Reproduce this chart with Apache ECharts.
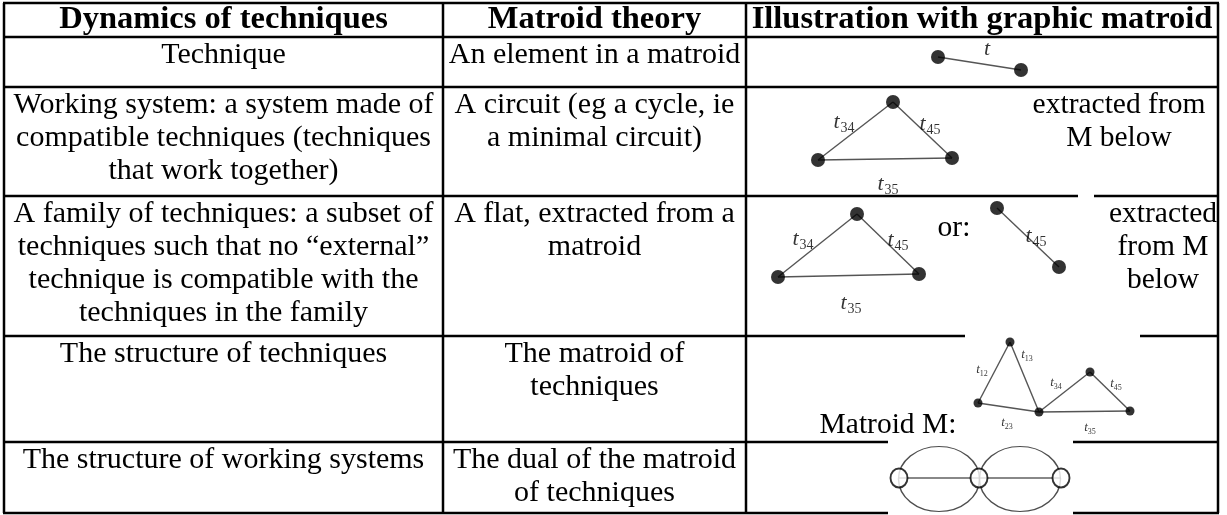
<!DOCTYPE html>
<html>
<head>
<meta charset="utf-8">
<script src="https://cdn.jsdelivr.net/npm/echarts@6/dist/echarts.min.js"></script>
<style>
  html, body { margin: 0; background: #fff; }
  #table-chart { width: 1227px; height: 515px; }
</style>
</head>
<body>
<div id="table-chart"></div>
<script>
// ---- table text ----
var headers = ['Dynamics of techniques', 'Matroid theory', 'Illustration with graphic matroid'];
var dynamics = [
  ['Technique'],
  ['Working system: a system made of', 'compatible techniques (techniques', 'that work together)'],
  ['A family of techniques: a subset of', 'techniques such that no \u201cexternal\u201d', 'technique is compatible with the', 'techniques in the family'],
  ['The structure of techniques'],
  ['The structure of working systems']
];
var theory = [
  ['An element in a matroid'],
  ['A circuit (eg a cycle, ie', 'a minimal circuit)'],
  ['A flat, extracted from a', 'matroid'],
  ['The matroid of', 'techniques'],
  ['The dual of the matroid', 'of techniques']
];
var notesCircuit = ['extracted from', 'M below'];
var notesFlat = ['extracted', 'from M', 'below'];

// ---- graph drawings (values on the hidden x / y axes) ----
var elementNodes = [[938, 57], [1021, 70]];
var circuitNodes = [[818, 160], [893, 102], [952, 158]];
var flatNodes = [[778, 277], [857, 214], [919, 274]];
var flatEdgeNodes = [[997, 208], [1059, 267]];
var matroidNodes = [[1010, 342], [978, 403], [1039, 412], [1090, 372], [1130, 411]];
var matroidEdges = [[0, 1], [0, 2], [1, 2], [2, 3], [3, 4], [2, 4]];
var triangleEdges = [[0, 1], [1, 2], [0, 2]];
var dualNodes = [[899, 478], [979, 478], [1061, 478]];
var dualLoops = [[939, 479], [1020, 479]];

// label: [name, subscript, x, y]
var bigLabels = [
  ['t', '', 987, 49],
  ['t', '34', 844, 122], ['t', '45', 930, 124], ['t', '35', 888, 184],
  ['t', '34', 803, 239], ['t', '45', 898, 240], ['t', '35', 851, 303],
  ['t', '45', 1036, 236]
];
var smallLabels = [
  ['t', '12', 982, 370], ['t', '13', 1027, 355], ['t', '23', 1007, 423],
  ['t', '34', 1056, 383], ['t', '45', 1116, 384], ['t', '35', 1090, 428]
];

// ---- layout ----
var colEdges = [4, 443, 746, 1218];
var rowEdges = [3, 37, 87, 196, 336, 442, 513];
var lineGap = 33;
var FONT = '"Liberation Serif", "Times New Roman", serif';

function text(str, x, y, size, bold, align) {
  return {
    type: 'text', x: x, y: y, z: 2, silent: true,
    style: {
      text: str, fill: '#000',
      font: (bold ? 'bold ' : '') + size + 'px ' + FONT,
      textAlign: align || 'center', textVerticalAlign: 'middle'
    }
  };
}
function hline(y, x1, x2) {
  return { type: 'line', z: 0, silent: true, shape: { x1: x1, y1: y, x2: x2, y2: y },
    style: { stroke: '#000', lineWidth: 2.5 } };
}
function vline(x, y1, y2) {
  return { type: 'line', z: 0, silent: true, shape: { x1: x, y1: y1, x2: x, y2: y2 },
    style: { stroke: '#000', lineWidth: 2.5 } };
}
function whiteout(x, y, w, h) {
  return { type: 'rect', z: 1, silent: true, shape: { x: x, y: y, width: w, height: h },
    style: { fill: '#fff' } };
}

var graphic = [];
rowEdges.forEach(function (y) { graphic.push(hline(y, colEdges[0] - 1, colEdges[3] + 1)); });
colEdges.forEach(function (x) { graphic.push(vline(x, rowEdges[0], rowEdges[6])); });
// the pasted pictures cover parts of the borders
graphic.push(whiteout(1078, 193, 16, 6));
graphic.push(whiteout(965, 333, 175, 6));
graphic.push(whiteout(888, 439, 185, 6));
graphic.push(whiteout(888, 510, 185, 6));

var colCenters = [0, 1, 2].map(function (i) { return (colEdges[i] + colEdges[i + 1]) / 2; });
headers.forEach(function (h, i) { graphic.push(text(h, colCenters[i], 20, 32.5, true)); });
function cellLines(lines, col, row) {
  lines.forEach(function (l, k) {
    graphic.push(text(l, colCenters[col], rowEdges[row + 1] + 18 + k * lineGap, 30));
  });
}
dynamics.forEach(function (lines, r) { cellLines(lines, 0, r); });
theory.forEach(function (lines, r) { cellLines(lines, 1, r); });
notesCircuit.forEach(function (l, k) { graphic.push(text(l, 1119, rowEdges[2] + 18 + k * lineGap, 29.5)); });
notesFlat.forEach(function (l, k) { graphic.push(text(l, 1163, rowEdges[3] + 18 + k * lineGap, 29.5)); });
graphic.push(text('or:', 954, 228, 29.5));
graphic.push(text('Matroid M:', 888, 425, 29.5));

function edgesOf(nodes, pairs) {
  return pairs.map(function (p) { return { coords: [nodes[p[0]], nodes[p[1]]] }; });
}
var grayEdges = []
  .concat(edgesOf(elementNodes, [[0, 1]]))
  .concat(edgesOf(circuitNodes, triangleEdges))
  .concat(edgesOf(flatNodes, triangleEdges))
  .concat(edgesOf(flatEdgeNodes, [[0, 1]]))
  .concat(edgesOf(matroidNodes, matroidEdges));
var dualEdges = edgesOf(dualNodes, [[0, 1], [1, 2]]);

var bigDots = [].concat(elementNodes, circuitNodes, flatNodes, flatEdgeNodes);

function labelData(list) {
  return list.map(function (l) {
    return { value: [l[2], l[3]], label: { formatter: '{t|' + l[0] + '}' + (l[1] ? '{s|' + l[1] + '}' : '') } };
  });
}

var option = {
  animation: false,
  grid: { left: 0, right: 0, top: 0, bottom: 0 },
  xAxis: { type: 'value', min: 0, max: 1227, show: false },
  yAxis: { type: 'value', min: 0, max: 515, inverse: true, show: false },
  graphic: graphic,
  series: [
    {
      type: 'lines', coordinateSystem: 'cartesian2d', z: 3, silent: true,
      data: grayEdges,
      lineStyle: { color: '#555', width: 1.4, opacity: 1 }
    },
    {
      type: 'lines', coordinateSystem: 'cartesian2d', z: 3, silent: true,
      data: dualEdges,
      lineStyle: { color: '#888', width: 2, opacity: 1 }
    },
    {
      type: 'scatter', z: 3, silent: true,
      data: dualLoops,
      symbol: 'circle', symbolSize: [81, 65],
      itemStyle: { color: 'rgba(0,0,0,0)', borderColor: '#222', borderWidth: 1.3 }
    },
    {
      type: 'scatter', z: 4, silent: true,
      data: dualNodes,
      symbol: 'circle', symbolSize: [17, 19],
      itemStyle: { color: '#fff', borderColor: '#000', borderWidth: 2 }
    },
    {
      type: 'scatter', z: 4, silent: true,
      data: bigDots, symbolSize: 14,
      itemStyle: { color: '#000' }
    },
    {
      type: 'scatter', z: 4, silent: true,
      data: matroidNodes, symbolSize: 9,
      itemStyle: { color: '#000' }
    },
    {
      type: 'scatter', z: 5, silent: true, symbolSize: 0,
      data: labelData(bigLabels),
      label: {
        show: true, position: 'inside', color: '#000',
        rich: {
          t: { fontFamily: FONT, fontStyle: 'italic', fontSize: 22, color: '#000' },
          s: { fontFamily: FONT, fontSize: 14, color: '#000', padding: [12, 0, 0, 1] }
        }
      }
    },
    {
      type: 'scatter', z: 5, silent: true, symbolSize: 0,
      data: labelData(smallLabels),
      label: {
        show: true, position: 'inside', color: '#000',
        rich: {
          t: { fontFamily: FONT, fontStyle: 'italic', fontSize: 13, color: '#000' },
          s: { fontFamily: FONT, fontSize: 8, color: '#000', padding: [7, 0, 0, 0] }
        }
      }
    }
  ]
};

var chart = echarts.init(document.getElementById('table-chart'));
chart.setOption(option);
</script>
</body>
</html>
